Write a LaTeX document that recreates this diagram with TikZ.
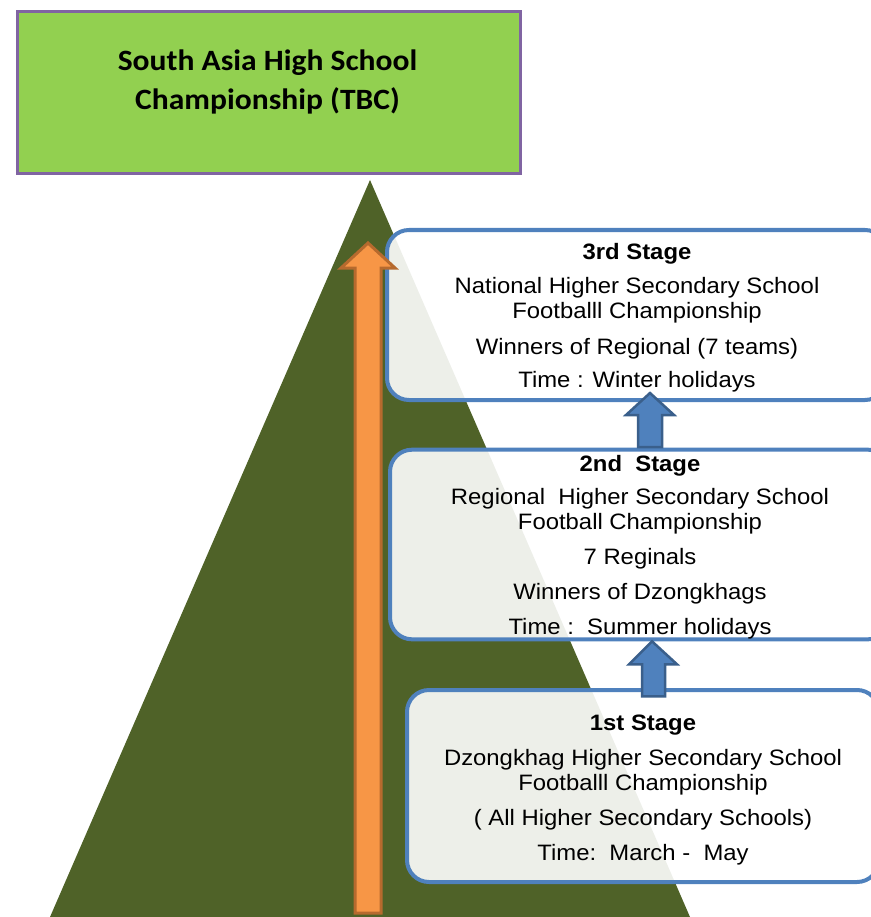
\documentclass[tikz,border=0pt]{standalone}
\usepackage{fontspec}
\setmainfont{Liberation Sans}[FakeStretch=1.07]
\newfontfamily\fuentetitulo{Carlito}[FakeStretch=1.07]
\usepackage{tikz}

\definecolor{verde}{HTML}{92D050}
\definecolor{morado}{HTML}{8064A2}
\definecolor{oliva}{HTML}{4F6228}
\definecolor{naranja}{HTML}{F79646}
\definecolor{naranjaosc}{HTML}{B66A2E}
\definecolor{azul}{HTML}{4F81BD}
\definecolor{azulosc}{HTML}{3A5F8B}

\begin{document}
\begin{tikzpicture}[x=1pt,y=-1pt,
		etapa/.style={draw=azul,line width=4pt,rounded corners=22pt,fill=white,fill opacity=0.9,text opacity=1,align=center,inner sep=0pt,font=\fontsize{22.3}{25}\selectfont},
		flechaazul/.style={draw=azulosc,line width=2.5pt,fill=azul},
		flechanaranja/.style={draw=naranjaosc,line width=3pt,fill=naranja}]
		\useasboundingbox (0,0) rectangle (870,917);

		%Piramide
		\fill [oliva] (370,180) -- (690,917) -- (50,917) -- cycle;

		%Nodos
		\node [draw=morado,fill=verde,line width=3pt,minimum width=503pt,minimum height=162pt] (titulo) at (268.5,93) {};
		\node [font=\fuentetitulo\bfseries\fontsize{29.5}{39}\selectfont,align=center] (textotitulo) at (267.5,81.5) {South Asia High School\\Championship (TBC)};
		\node [etapa,minimum width=500pt,minimum height=170pt] (etapa3) at (637,315) {\rule{0pt}{22pt}\textbf{3rd Stage}\\[9pt]National Higher Secondary School\\Footballl Championship\\[11pt]Winners of Regional (7 teams)\\[8pt]Time : Winter holidays};
		\node [etapa,minimum width=500pt,minimum height=185pt] (etapa2) at (640,544.5) {\rule{0pt}{22pt}\textbf{2nd~~Stage}\\[8pt]Regional~~Higher Secondary School\\Football Championship\\[10pt]7 Reginals\\[10pt]Winners of Dzongkhags\\[10pt]Time :~~Summer holidays};
		\node [etapa,minimum width=472pt,minimum height=192pt] (etapa1) at (643,786) {\rule{0pt}{23pt}\textbf{1st Stage}\\[10pt]Dzongkhag Higher Secondary School\\Footballl Championship\\[10pt]( All Higher Secondary Schools)\\[10pt]Time:~~March -~~May};

		%Flechas
		\draw [flechaazul] ([xshift=13pt,yshift=9pt]etapa3.south) -- ++(24,22) -- ++(-12,0) -- ++(0,32) -- ++(-24,0) -- ++(0,-32) -- ++(-12,0) -- cycle;
		\draw [flechaazul] ([xshift=12pt]etapa2.south) -- ++(25,23) -- ++(-12,0) -- ++(0,32) -- ++(-23,0) -- ++(0,-32) -- ++(-13,0) -- cycle;
		\draw [flechanaranja] (368,243) -- (395,268) -- (381,268) -- (381,913) -- (355,913) -- (355,268) -- (341,268) -- cycle;
\end{tikzpicture}
\end{document}
